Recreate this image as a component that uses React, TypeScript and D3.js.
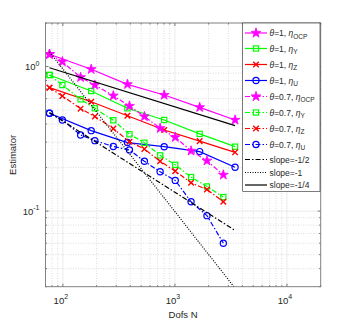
import React from 'react';
import * as d3 from 'd3';

// degrees of freedom for each refinement level
const dofsTheta1 = [76, 179, 377, 802, 1663, 3443];
const dofsTheta07 = [76, 99, 144, 193, 282, 393, 534, 738, 1007, 1393, 1932, 2704];

// estimator values, theta = 1
const ocpTheta1 = [1.215, 0.957, 0.753, 0.635, 0.522, 0.427];
const yTheta1 = [0.874, 0.677, 0.514, 0.427, 0.342, 0.279];
const zTheta1 = [0.714, 0.571, 0.457, 0.364, 0.305, 0.255];
const uTheta1 = [0.475, 0.36, 0.298, 0.279, 0.258, 0.201];

// estimator values, theta = 0.7
const ocpTheta07 = [1.215, 1.08, 0.842, 0.745, 0.628, 0.533, 0.451, 0.374, 0.324, 0.261, 0.223, 0.178];
const yTheta07 = [0.874, 0.745, 0.593, 0.514, 0.425, 0.34, 0.297, 0.243, 0.209, 0.172, 0.148, 0.125];
const zTheta07 = [0.714, 0.625, 0.511, 0.451, 0.372, 0.302, 0.269, 0.221, 0.189, 0.157, 0.141, 0.116];
const uTheta07 = [0.475, 0.427, 0.336, 0.307, 0.28, 0.265, 0.221, 0.187, 0.163, 0.116, 0.093, 0.06];

// reference slope lines (end points)
const slopeDofs = [76, 3443];
const slopeHalf = [0.48, 0.0735];
const slopeOne = [1.26, 0.0293];
const slopeQuarter = [0.981, 0.39];

const xMajor = [100, 1000, 10000];
const yMajor = [0.1, 1];
const xTickLabels = ['2', '3', '4'];
const yTickLabels = ['-1', '0'];

const W = 354;
const H = 323;
const box = { left: 45.5, right: 320.7, top: 23, bottom: 286.7 };
const font = '"Liberation Sans", Arial, Helvetica, sans-serif';

const x = d3.scaleLog().domain([70, 20000]).range([box.left, box.right]);
const y = d3.scaleLog().domain([0.03, 2]).range([box.bottom, box.top]);

const DASHDOT = '5,2,1.5,2';
const DOTTED = '1,1.5';

type Marker = 'star' | 'square' | 'cross' | 'circle' | 'none';

const series = [
  { theta: '1', sub: 'OCP', color: '#ff00ff', dash: null, marker: 'star', xs: dofsTheta1, ys: ocpTheta1 },
  { theta: '1', sub: 'Y', color: '#00ff00', dash: null, marker: 'square', xs: dofsTheta1, ys: yTheta1 },
  { theta: '1', sub: 'Z', color: '#ff0000', dash: null, marker: 'cross', xs: dofsTheta1, ys: zTheta1 },
  { theta: '1', sub: 'U', color: '#0000ff', dash: null, marker: 'circle', xs: dofsTheta1, ys: uTheta1 },
  { theta: '0.7', sub: 'OCP', color: '#ff00ff', dash: DASHDOT, marker: 'star', xs: dofsTheta07, ys: ocpTheta07 },
  { theta: '0.7', sub: 'Y', color: '#00ff00', dash: DASHDOT, marker: 'square', xs: dofsTheta07, ys: yTheta07 },
  { theta: '0.7', sub: 'Z', color: '#ff0000', dash: DASHDOT, marker: 'cross', xs: dofsTheta07, ys: zTheta07 },
  { theta: '0.7', sub: 'U', color: '#0000ff', dash: DASHDOT, marker: 'circle', xs: dofsTheta07, ys: uTheta07 },
];

const slopes = [
  { label: 'slope=-1/2', dash: DASHDOT, ys: slopeHalf },
  { label: 'slope=-1', dash: DOTTED, ys: slopeOne },
  { label: 'slope=-1/4', dash: null, ys: slopeQuarter },
];

const starPath = d3.symbol(d3.symbolStar, 30)() as string;

function MarkerShape({ kind, cx, cy, color }: { kind: Marker; cx: number; cy: number; color: string }) {
  if (kind === 'star')
    return <path d={starPath} transform={`translate(${cx},${cy})`} fill={color} stroke={color} strokeWidth={0.8} />;
  if (kind === 'square')
    return <rect x={cx - 2.6} y={cy - 2.6} width={5.2} height={5.2} fill="none" stroke={color} strokeWidth={1.2} />;
  if (kind === 'cross')
    return (
      <path
        d={`M${cx - 2.8},${cy - 2.8}L${cx + 2.8},${cy + 2.8}M${cx - 2.8},${cy + 2.8}L${cx + 2.8},${cy - 2.8}`}
        stroke={color}
        strokeWidth={1.4}
      />
    );
  if (kind === 'circle') return <circle cx={cx} cy={cy} r={3.1} fill="none" stroke={color} strokeWidth={1.2} />;
  return null;
}

const legendRows = [33, 48.5, 64.5, 80.5, 96.5, 112.5, 128.5, 144.5, 159.5, 172.5, 185];

export default function App() {
  const line = d3
    .line<[number, number]>()
    .x((d) => x(d[0]))
    .y((d) => y(d[1]));

  const xAll = x.ticks();
  const yAll = y.ticks();
  const xMinor = xAll.filter((t) => !xMajor.includes(t));
  const yMinor = yAll.filter((t) => !yMajor.some((m) => Math.abs(m - t) < 1e-9));

  const axisColor = '#262626';

  return (
    <svg
      width={W}
      height={H}
      style={{ position: 'absolute', left: 0, top: 0, background: '#fff' }}
      fontFamily={font}
    >
      <defs>
        <clipPath id="plot">
          <rect x={box.left} y={box.top} width={box.right - box.left} height={box.bottom - box.top} />
        </clipPath>
      </defs>
      <rect x={0} y={0} width={W} height={H} fill="#fff" />

      {/* grid */}
      <g strokeWidth={0.6}>
        {xMinor.map((t) => (
          <line key={'xm' + t} x1={x(t)} x2={x(t)} y1={box.top} y2={box.bottom} stroke="#c8c8c8" strokeDasharray="1,1.5" />
        ))}
        {yMinor.map((t) => (
          <line key={'ym' + t} x1={box.left} x2={box.right} y1={y(t)} y2={y(t)} stroke="#c8c8c8" strokeDasharray="1,1.5" />
        ))}
        {xMajor.map((t) => (
          <line key={'xM' + t} x1={x(t)} x2={x(t)} y1={box.top} y2={box.bottom} stroke="#dedede" />
        ))}
        {yMajor.map((t) => (
          <line key={'yM' + t} x1={box.left} x2={box.right} y1={y(t)} y2={y(t)} stroke="#dedede" />
        ))}
      </g>

      {/* data */}
      <g clipPath="url(#plot)">
        {series.map((s, i) => {
          const pts = s.xs.map((d, j) => [d, s.ys[j]] as [number, number]);
          return (
            <g key={'s' + i}>
              <path d={line(pts) as string} fill="none" stroke={s.color} strokeWidth={1.2} strokeDasharray={s.dash ?? undefined} />
              {pts.map((p, j) => (
                <MarkerShape key={j} kind={s.marker as Marker} cx={x(p[0])} cy={y(p[1])} color={s.color} />
              ))}
            </g>
          );
        })}
        {slopes.map((s, i) => {
          const pts = slopeDofs.map((d, j) => [d, s.ys[j]] as [number, number]);
          return (
            <path key={'r' + i} d={line(pts) as string} fill="none" stroke="#000" strokeWidth={1.2} strokeDasharray={s.dash ?? undefined} />
          );
        })}
      </g>

      {/* ticks */}
      <g stroke={axisColor} strokeWidth={0.6}>
        {xAll.map((t) => {
          const len = xMajor.includes(t) ? 3 : 1.6;
          return (
            <g key={'xt' + t}>
              <line x1={x(t)} x2={x(t)} y1={box.bottom} y2={box.bottom - len} />
              <line x1={x(t)} x2={x(t)} y1={box.top} y2={box.top + len} />
            </g>
          );
        })}
        {yAll.map((t) => {
          const len = yMajor.some((m) => Math.abs(m - t) < 1e-9) ? 3 : 1.6;
          return (
            <g key={'yt' + t}>
              <line x1={box.left} x2={box.left + len} y1={y(t)} y2={y(t)} />
              <line x1={box.right} x2={box.right - len} y1={y(t)} y2={y(t)} />
            </g>
          );
        })}
      </g>
      <rect
        x={box.left}
        y={box.top}
        width={box.right - box.left}
        height={box.bottom - box.top}
        fill="none"
        stroke="#7a7a7a"
        strokeWidth={0.9}
      />

      {/* tick labels */}
      <g fill={axisColor} fontSize={9.5}>
        {xMajor.map((t, i) => (
          <text key={'xl' + t} x={x(t) - 2} y={box.bottom + 17} textAnchor="middle">
            10<tspan fontSize={7} dy={-4.5}>{xTickLabels[i]}</tspan>
          </text>
        ))}
        {yMajor.map((t, i) => (
          <text key={'yl' + t} x={box.left - 6} y={y(t) + 3.5} textAnchor="end">
            10<tspan fontSize={7} dy={-4.5}>{yTickLabels[i]}</tspan>
          </text>
        ))}
      </g>

      {/* axis titles */}
      <text x={(box.left + box.right) / 2} y={318} textAnchor="middle" fontSize={9.5} fill={axisColor}>
        Dofs N
      </text>
      <text
        transform={`translate(16,${(box.top + box.bottom) / 2}) rotate(-90)`}
        textAnchor="middle"
        fontSize={9.5}
        fill={axisColor}
      >
        Estimator
      </text>

      {/* legend */}
      <g>
        <rect x={242.7} y={23} width={77.3} height={168.5} fill="#fff" stroke="#262626" strokeWidth={0.6} />
        {series.map((s, i) => {
          const ly = legendRows[i];
          return (
            <g key={'lg' + i}>
              <line x1={245} x2={267} y1={ly} y2={ly} stroke={s.color} strokeWidth={1.2} strokeDasharray={s.dash ?? undefined} />
              <MarkerShape kind={s.marker as Marker} cx={256} cy={ly} color={s.color} />
              <text x={269.5} y={ly + 3} fontSize={8.5} fill={axisColor}>
                <tspan fontStyle="italic">θ</tspan>={s.theta}, <tspan fontStyle="italic">η</tspan>
                <tspan fontSize={6.5} dy={2.5}>{s.sub}</tspan>
              </text>
            </g>
          );
        })}
        {slopes.map((s, i) => {
          const ly = legendRows[series.length + i];
          return (
            <g key={'ls' + i}>
              <line x1={245} x2={267} y1={ly} y2={ly} stroke="#000" strokeWidth={1.2} strokeDasharray={s.dash ?? undefined} />
              <text x={269.5} y={ly + 3} fontSize={8.5} fill={axisColor}>
                {s.label}
              </text>
            </g>
          );
        })}
      </g>
    </svg>
  );
}
